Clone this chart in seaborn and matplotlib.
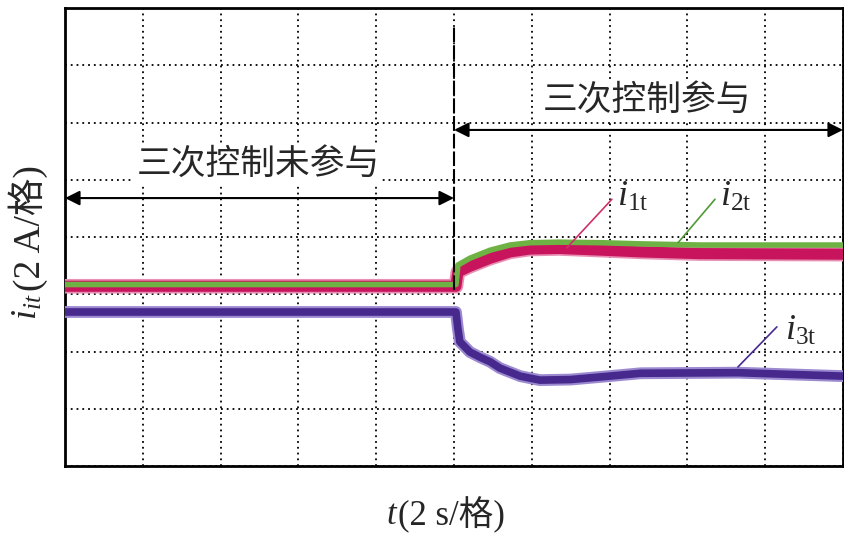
import numpy as np
import pandas as pd
import matplotlib
matplotlib.use("Agg")
import matplotlib.pyplot as plt
import seaborn as sns

# ---- data (time in s, current in grid divisions, 2 A/div) ----
t1 = [0.0, 10.05, 10.10, 10.41, 10.93, 11.44, 11.95, 12.7, 13.8, 14.8, 16.3, 20.0]
i1 = [3.14, 3.14, 3.39, 3.49, 3.63, 3.74, 3.79, 3.80, 3.77, 3.74, 3.71, 3.70]

t2 = [0.0, 10.05, 10.10, 10.41, 10.93, 11.44, 11.95, 12.7, 13.8, 14.8, 16.3, 20.0]
i2 = [3.17, 3.17, 3.51, 3.63, 3.77, 3.86, 3.90, 3.91, 3.90, 3.88, 3.86, 3.86]

t3 = [0.0, 10.05, 10.10, 10.15, 10.41, 10.67, 10.93, 11.18, 11.44, 11.70, 12.21,
      13.0, 14.0, 14.8, 17.3, 20.0]
i3 = [2.69, 2.69, 2.40, 2.17, 1.99, 1.90, 1.82, 1.71, 1.64, 1.57, 1.50,
      1.51, 1.57, 1.62, 1.63, 1.57]

series_names = ["i1t", "i2t", "i3t"]
xlabel_main = "(2 s/格)"
ylabel_main = "(2 A/格)"
text_before = "三次控制未参与"
text_after = "三次控制参与"

# ---- style ----
sns.set_theme(style="white")
plt.rcParams["font.family"] = ["Liberation Serif", "Noto Sans CJK SC"]
plt.rcParams["mathtext.fontset"] = "custom"
plt.rcParams["mathtext.it"] = "Liberation Serif:italic"
plt.rcParams["mathtext.rm"] = "Liberation Serif"

fig = plt.figure(figsize=(8.45, 5.41), dpi=100)
ax = fig.add_axes([65 / 845, 75 / 541, 778 / 845, 458 / 541])

df1 = pd.DataFrame({"t": t1, "v": i1})
df2 = pd.DataFrame({"t": t2, "v": i2})
df3 = pd.DataFrame({"t": t3, "v": i3})

# i1t magenta band
sns.lineplot(data=df1, x="t", y="v", ax=ax, color="#e890b4", lw=10.5, zorder=3)
sns.lineplot(data=df1, x="t", y="v", ax=ax, color="#c8145c", lw=8.0, zorder=3)
# i2t green band
sns.lineplot(data=df2, x="t", y="v", ax=ax, color="#6fb244", lw=4.0, zorder=4)
# i3t purple band
sns.lineplot(data=df3, x="t", y="v", ax=ax, color="#9c8ad0", lw=8.5, zorder=3)
sns.lineplot(data=df3, x="t", y="v", ax=ax, color="#47298e", lw=5.5, zorder=3)

ax.set_xlim(0, 20)
ax.set_ylim(0, 8)
ax.set_xticks(np.arange(0, 21, 2))
ax.set_yticks(np.arange(0, 9, 1))
ax.set_xticklabels([])
ax.set_yticklabels([])
ax.tick_params(length=0)
ax.set_xlabel("")
ax.set_ylabel("")
ax.grid(True, color="black", linestyle=(0, (1, 2.2)), linewidth=1.3, zorder=1)
ax.set_axisbelow(True)
for s in ax.spines.values():
    s.set_color("black")
    s.set_linewidth(2.0)

# dashed switching line
ax.plot([10, 10], [3.07, 7.67], color="black", lw=1.5, dashes=(7, 1.5), zorder=5)

# arrows
ax.annotate("", xy=(0.0, 4.68), xytext=(10.0, 4.68),
            arrowprops=dict(arrowstyle="<|-|>", color="black", lw=1.5,
                            mutation_scale=22, shrinkA=0, shrinkB=0), zorder=6)
ax.annotate("", xy=(10.0, 5.87), xytext=(20.0, 5.87),
            arrowprops=dict(arrowstyle="<|-|>", color="black", lw=1.5,
                            mutation_scale=22, shrinkA=0, shrinkB=0), zorder=6)

cjk = ["Noto Sans CJK SC", "DejaVu Sans"]
ax.text(4.96, 5.27, text_before, ha="center", va="center", fontsize=25,
        family=cjk, zorder=6,
        bbox=dict(facecolor="white", edgecolor="none", pad=2))
ax.text(14.96, 6.39, text_after, ha="center", va="center", fontsize=25,
        family=cjk, zorder=6,
        bbox=dict(facecolor="white", edgecolor="none", pad=2))

# leader lines + labels
ax.plot([14.06, 12.90], [4.66, 3.81], color="#d0306a", lw=1.2, zorder=6)
ax.plot([16.71, 15.76], [4.66, 3.90], color="#4f9a35", lw=1.2, zorder=6)
ax.plot([18.30, 17.30], [2.43, 1.73], color="#47298e", lw=1.2, zorder=6)
ax.text(14.18, 4.70, r"$i_{\mathrm{1t}}$", fontsize=26, ha="left", va="center", zorder=6)
ax.text(16.84, 4.70, r"$i_{\mathrm{2t}}$", fontsize=26, ha="left", va="center", zorder=6)
ax.text(18.50, 2.35, r"$i_{\mathrm{3t}}$", fontsize=26, ha="left", va="center", zorder=6)

# axis labels
fig.text(386 / 845, 1 - 515 / 541, r"$t$", fontsize=25, ha="left", va="center")
fig.text(398 / 845, 1 - 515 / 541, xlabel_main, fontsize=25, ha="left", va="center",
         family=["Liberation Serif", "Noto Sans CJK SC"])
fig.text(28 / 845, 1 - 320 / 541, r"$i_{it}$", fontsize=26, ha="center", va="bottom",
         rotation=90)
fig.text(28 / 845, 1 - 291 / 541, ylabel_main, fontsize=27, ha="center", va="bottom",
         rotation=90, family=["Liberation Serif", "Noto Sans CJK SC"])

fig.savefig("out.png", dpi=100)
